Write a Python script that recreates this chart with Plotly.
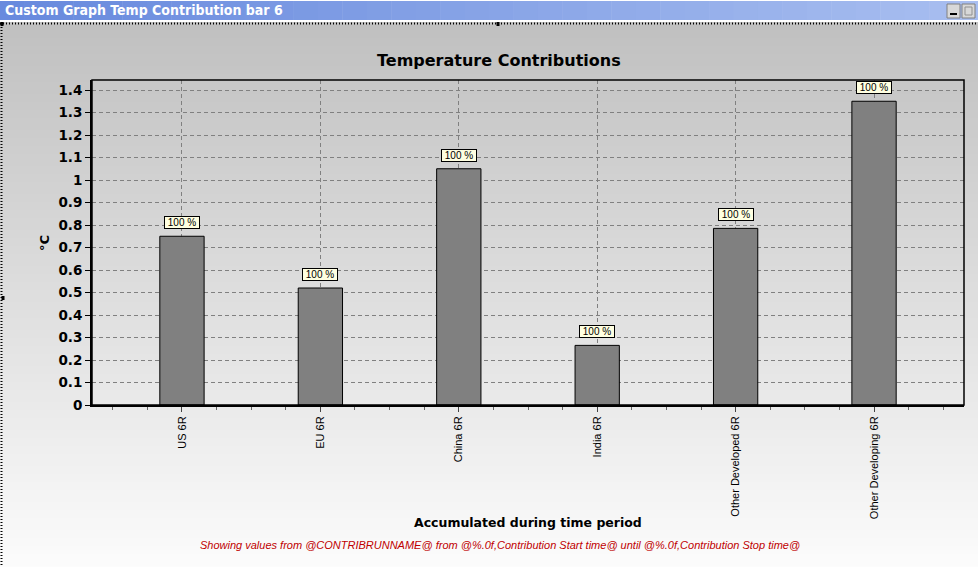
import plotly.graph_objects as go

categories = ["US 6R", "EU 6R", "China 6R", "India 6R", "Other Developed 6R", "Other Developing 6R"]
values = [0.75, 0.52, 1.05, 0.265, 0.785, 1.35]
shares = ["100 %", "100 %", "100 %", "100 %", "100 %", "100 %"]
y_ticks = [round(i * 0.1, 1) for i in range(15)]

W, H = 978, 567
L, R, T, B = 92, 964, 80, 405


def px2x(px):
    return (px - L) / (R - L)


def px2y(py):
    return (B - py) / (B - T)


xs = list(range(len(categories)))

fig = go.Figure()
fig.add_trace(go.Bar(
    x=xs, y=values, width=0.32,
    marker=dict(color="#808080", line=dict(color="#000000", width=1)),
    hoverinfo="skip",
))

shapes = []
# background vertical gradient
step = 4
y0 = 22
while y0 < H:
    y1 = min(y0 + step, H)
    t = (y0 - 22) / (H - 22)
    c = int(round(192 + (252 - 192) * t))
    shapes.append(dict(type="rect", xref="paper", yref="paper", layer="below",
                       x0=px2x(0), x1=px2x(W), y0=px2y(y1), y1=px2y(y0),
                       fillcolor=f"rgb({c},{c},{c})", line=dict(width=0)))
    y0 = y1

# title bar horizontal gradient
nstrip = 40
for i in range(nstrip):
    xa = W * i / nstrip
    xb = W * (i + 1) / nstrip + 0.5
    t = i / (nstrip - 1)
    r = int(104 + (168 - 104) * t)
    g = int(138 + (190 - 138) * t)
    b = int(222 + (240 - 222) * t)
    shapes.append(dict(type="rect", xref="paper", yref="paper", layer="below",
                       x0=px2x(xa), x1=px2x(xb), y0=px2y(20), y1=px2y(1),
                       fillcolor=f"rgb({r},{g},{b})", line=dict(width=0)))
# white strip between title bar and border
shapes.append(dict(type="rect", xref="paper", yref="paper", layer="below",
                   x0=px2x(0), x1=px2x(W), y0=px2y(22), y1=px2y(20),
                   fillcolor="white", line=dict(width=0)))
# hatched borders
shapes.append(dict(type="line", xref="paper", yref="paper", layer="above",
                   x0=px2x(0), x1=px2x(W), y0=px2y(23.5), y1=px2y(23.5),
                   line=dict(color="black", width=2, dash="1px,2px")))
shapes.append(dict(type="line", xref="paper", yref="paper", layer="above",
                   x0=px2x(1.5), x1=px2x(1.5), y0=px2y(24), y1=px2y(H),
                   line=dict(color="black", width=2, dash="1px,2px")))
# selection handles
for hx, hy in [(2, 24), (498, 24), (3, 298)]:
    shapes.append(dict(type="rect", xref="paper", yref="paper", layer="above",
                       x0=px2x(hx - 1.5), x1=px2x(hx + 1.5), y0=px2y(hy + 2), y1=px2y(hy - 2),
                       fillcolor="black", line=dict(width=0)))
# window buttons
for bx in (947, 962):
    shapes.append(dict(type="rect", xref="paper", yref="paper", layer="above",
                       x0=px2x(bx), x1=px2x(bx + 13), y0=px2y(18), y1=px2y(4),
                       fillcolor="#d8d8d8", line=dict(color="#808080", width=1)))
shapes.append(dict(type="rect", xref="paper", yref="paper", layer="above",
                   x0=px2x(950), x1=px2x(957), y0=px2y(15), y1=px2y(13),
                   fillcolor="black", line=dict(width=0)))
shapes.append(dict(type="rect", xref="paper", yref="paper", layer="above",
                   x0=px2x(965), x1=px2x(972), y0=px2y(15), y1=px2y(7),
                   fillcolor="rgba(0,0,0,0)", line=dict(color="#909090", width=1)))
# plot frame
shapes.append(dict(type="rect", xref="paper", yref="paper", layer="above",
                   x0=0, x1=1, y0=0, y1=1, line=dict(color="black", width=1.5)))

annotations = []
for xi, v, s in zip(xs, values, shares):
    annotations.append(dict(x=xi, y=v, xref="x", yref="y", text="&nbsp;" + s + "&nbsp;", showarrow=False,
                            yanchor="bottom", yshift=7,
                            font=dict(family="Liberation Sans, Arial", size=10, color="black"),
                            bgcolor="#ffffe1", bordercolor="black", borderwidth=1, borderpad=0))

annotations += [
    dict(text="Custom Graph Temp Contribution bar 6", xref="paper", yref="paper",
         x=px2x(3), y=px2y(10), xanchor="left", yanchor="middle", showarrow=False,
         font=dict(family="DejaVu Sans Condensed, DejaVu Sans", size=14, color="white", weight="bold")),
    dict(text="<b>Temperature Contributions</b>", xref="paper", yref="paper",
         x=px2x(499), y=px2y(61), xanchor="center", yanchor="middle", showarrow=False,
         font=dict(family="DejaVu Sans", size=16, color="black")),
    dict(text="<b>°C</b>", xref="paper", yref="paper", textangle=-90,
         x=px2x(45), y=px2y(243), xanchor="center", yanchor="middle", showarrow=False,
         font=dict(family="DejaVu Sans", size=13, color="black")),
    dict(text="<b>Accumulated during time period</b>", xref="paper", yref="paper",
         x=px2x(528), y=px2y(522), xanchor="center", yanchor="middle", showarrow=False,
         font=dict(family="DejaVu Sans", size=12.5, color="black")),
    dict(text="<i>Showing values from @CONTRIBRUNNAME@ from @%.0f,Contribution Start time@ until @%.0f,Contribution Stop time@</i>",
         xref="paper", yref="paper",
         x=px2x(500), y=px2y(545), xanchor="center", yanchor="middle", showarrow=False,
         font=dict(family="Liberation Sans, Arial", size=11, color="#c00000")),
]

fig.update_layout(
    width=W, height=H,
    margin=dict(l=L, r=W - R, t=T, b=H - B, pad=0),
    paper_bgcolor="white", plot_bgcolor="rgba(0,0,0,0)",
    showlegend=False,
    shapes=shapes, annotations=annotations,
    xaxis=dict(
        range=[-0.65, len(categories) - 1 + 0.65],
        tickmode="array", tickvals=xs, ticktext=categories, tickangle=-90,
        ticks="outside", ticklen=5, tickcolor="#444", tickwidth=1,
        showline=True, linecolor="black", linewidth=2,
        showgrid=True, gridcolor="#808080", gridwidth=1, griddash="4px,3px",
        zeroline=False,
        minor=dict(dtick=0.25, tick0=0, ticks="outside", ticklen=3, tickcolor="#666", showgrid=False),
        tickfont=dict(family="Liberation Sans, Arial", size=11, color="black"),
        fixedrange=True,
    ),
    yaxis=dict(
        range=[0, (B - T) / 225.0],
        tickmode="array", tickvals=y_ticks, ticktext=[f"{v:g}" for v in y_ticks],
        ticks="outside", ticklen=5, tickcolor="black", tickwidth=1,
        showline=True, linecolor="black", linewidth=2,
        showgrid=True, gridcolor="#808080", gridwidth=1, griddash="4px,3px",
        zeroline=False,
        tickfont=dict(family="DejaVu Sans", size=13.5, color="black", weight="bold"),
        fixedrange=True,
    ),
)

fig.write_html("out.html", config={"displayModeBar": False})
